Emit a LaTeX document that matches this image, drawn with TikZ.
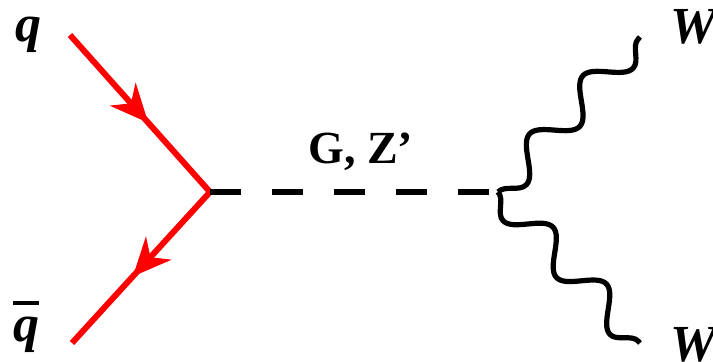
\documentclass[tikz,border=0pt]{standalone}
\usepackage{fontspec}
\setmainfont{Liberation Serif}
\usetikzlibrary{arrows.meta,decorations.markings,decorations.pathmorphing}

% antiquark symbol with a thick bar
\newcommand{\antiq}{\vbox{\hrule height 2pt\kern 6pt\hbox{\textbf{\textit{q}}}}}

\begin{document}
\begin{tikzpicture}[x=0.5pt, y=-0.5pt, >=Stealth,
  particle/.style={inner sep=0pt, font=\fontsize{26}{30}\selectfont\bfseries\itshape},
  quark/.style={draw=red, line width=3pt, postaction={decorate},
    decoration={markings, mark=at position 0.56 with {\arrow{Stealth[length=19pt,width=17pt,inset=6pt]}}}},
  boson/.style={draw=black, line width=2.6pt, decorate,
    decoration={snake, mirror, amplitude=8pt, segment length=#1}},
  propagator/.style={draw=black, line width=2.6pt, dash pattern=on 15.5pt off 15.5pt}]
  \useasboundingbox (0,0) rectangle (713,361);

  % external legs
  \node[particle, anchor=base west] (q) at (15,41) {q};
  \node[particle, anchor=base west] (qb) at (13,341) {\antiq};
  \node[particle, anchor=base west] (w1) at (670,43) {W};
  \node[particle, anchor=base west] (w2) at (670,361) {W};
  \coordinate (qin) at (70,35);
  \coordinate (qbout) at (72,343);
  \coordinate (w1out) at (640,37);
  \coordinate (w2out) at (640,343);

  % vertices
  \coordinate (v1) at (210,192);
  \coordinate (v2) at (498,192);

  % quark lines
  \draw[quark] (qin) -- (v1);
  \draw[quark] (v1) -- (qbout);

  % exchanged resonance
  \draw[propagator] (v1) -- (v2);
  \node[inner sep=0pt, anchor=base west, font=\fontsize{23}{28}\selectfont\bfseries] (gz) at (308,163) {G, Z’};

  % W bosons
  \draw[boson=39.5pt] (v2) -- (w1out);
  \draw[boson=39pt] (v2) -- (w2out);
\end{tikzpicture}
\end{document}
